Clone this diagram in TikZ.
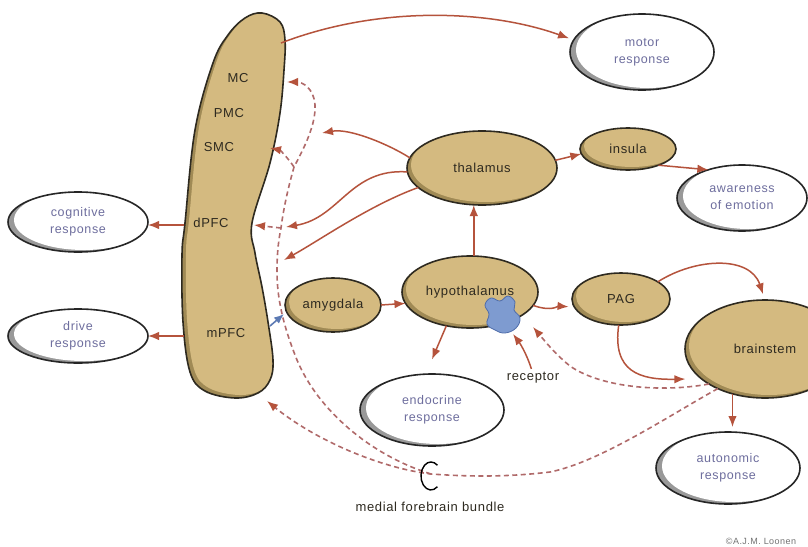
\documentclass[tikz,border=0pt]{standalone}
\usepackage{fontspec}
\newfontfamily\lbl[LetterSpace=5]{Liberation Sans}
\usetikzlibrary{arrows.meta,calc,shapes.geometric}
\definecolor{tanc}{HTML}{D4BA80}
\definecolor{tandark}{HTML}{A08A55}
\definecolor{edge}{HTML}{2E2A20}
\definecolor{arr}{HTML}{B5533C}
\definecolor{dsh}{HTML}{B06A6A}
\definecolor{respc}{HTML}{6E6E9E}
\definecolor{blu}{HTML}{5C7AB4}
\definecolor{recfill}{HTML}{7E9BD0}
\definecolor{recedge}{HTML}{4F6DAA}
\tikzset{
  region/.style={ellipse, draw=edge, line width=1.6pt, inner sep=0pt, outer sep=0pt, text=edge, font=\lbl\fontsize{13}{16}\selectfont},
  respbox/.style={ellipse, draw=black!85, line width=1.6pt, inner sep=0pt, outer sep=0pt, text=respc, align=center, font=\lbl\fontsize{12.5}{17}\selectfont},
  ctxlabel/.style={text=edge, font=\lbl\fontsize{13}{16}\selectfont, inner sep=1pt},
  redarr/.style={draw=arr, line width=1.5pt, -{Latex[length=11pt,width=8.5pt]}},
  dasharr/.style={draw=dsh, line width=1.6pt, dash pattern=on 5pt off 3.5pt, -{Latex[length=11pt,width=8.5pt,color=arr]}},
  bluarr/.style={draw=blu, line width=1.6pt, -{Latex[length=10pt,width=8pt]}},
}
\newcommand\tanell[6]{%
  \fill[tandark] (#2,#3) ellipse [x radius=#4, y radius=#5];
  \begin{scope}
    \clip (#2,#3) ellipse [x radius=#4, y radius=#5];
    \fill[tanc] (#2+4,#3-3) ellipse [x radius=#4, y radius=#5];
  \end{scope}
  \node[region, minimum width={2*#4}, minimum height={2*#5}] (#1) at (#2,#3) {#6};}
\newcommand\respell[6]{%
  \fill[black!40] (#2,#3) ellipse [x radius=#4, y radius=#5];
  \begin{scope}
    \clip (#2,#3) ellipse [x radius=#4, y radius=#5];
    \fill[white] (#2+6,#3-2) ellipse [x radius=#4, y radius=#5];
  \end{scope}
  \node[respbox, minimum width={2*#4}, minimum height={2*#5}] (#1) at (#2,#3) {#6};}
\def\ctxpath{plot[smooth cycle, tension=0.6] coordinates {(262,13) (280,22) (285,40) (284,70) (280,113) (270,163) (252,223) (255,253) (262,287) (268,322) (273,360) (270,380) (258,393) (235,398) (205,391) (190,372) (183,322) (182,255) (185,223) (195,130) (213,63) (228,35) (245,18)}}
\begin{document}
\begin{tikzpicture}[x=1pt,y=-1pt]
\clip (0,0) rectangle (808,546);
\fill[white] (0,0) rectangle (808,546);

% cortex bar
\fill[tandark] \ctxpath;
\begin{scope}
  \clip \ctxpath;
  \fill[tanc, shift={(4,-3)}] \ctxpath;
\end{scope}
\draw[edge, line width=1.6pt] \ctxpath;

\coordinate (cMC) at (287,82);
\coordinate (cSMC) at (270,148);
\coordinate (cdPFC) at (254,225);
\coordinate (ccog) at (184,225);
\coordinate (cdrive) at (184,336);
\coordinate (cmot) at (281,43);
\coordinate (cblue) at (270,326);
\coordinate (cbot) at (267,401);

\node[ctxlabel] (MC) at (238,78) {MC};
\node[ctxlabel] (PMC) at (229,113) {PMC};
\node[ctxlabel] (SMC) at (219,147) {SMC};
\node[ctxlabel] (dPFC) at (211,223) {dPFC};
\node[ctxlabel] (mPFC) at (226,333) {mPFC};

% regions
\tanell{thal}{482}{168}{75}{37}{thalamus}
\tanell{ins}{628}{149}{48}{21}{insula}
\tanell{hyp}{470}{292}{68}{36}{hypothalamus}
\tanell{amyg}{333}{305}{48}{27}{amygdala}
\tanell{pag}{621}{299}{49}{26}{PAG}
\tanell{brain}{765}{349}{80}{49}{brainstem}

% responses
\respell{mot}{642}{52}{72}{38}{motor\\response}
\respell{awa}{742}{198}{65}{33}{awareness\\of emotion}
\respell{cog}{78}{222}{70}{30}{cognitive\\response}
\respell{drv}{78}{336}{70}{27}{drive\\response}
\respell{endo}{432}{410}{72}{36}{endocrine\\response}
\respell{auto}{728}{468}{72}{36}{autonomic\\response}

% receptor
\fill[recfill, draw=recedge, line width=0.8pt] plot[smooth cycle, tension=0.7] coordinates {(485,305) (491,298) (500,301) (508,296) (515,302) (514,310) (520,318) (516,328) (505,333) (495,330) (487,324) (489,314)};
\node[text=edge, font=\lbl\fontsize{13}{16}\selectfont] (reclab) at (533,378) {receptor};

% free ends
\coordinate (t1) at (322,133);
\coordinate (t2) at (286,227);
\coordinate (t3) at (284,260);
\coordinate (rtip) at (513,334);
\coordinate (btip) at (284,314);
\coordinate (htip) at (533,327);
\coordinate (mfb) at (431,474);
\coordinate (jd) at (281,228);
\coordinate (js) at (294,167);

% red arrows
\draw[redarr] (ccog) -- (ccog -| cog.east);
\draw[redarr] (cdrive) -- (cdrive -| drv.east);
\draw[redarr, shorten >=5pt] (cmot) .. controls (380,5) and (490,10) .. (mot.170);
\draw[redarr] (thal.172) .. controls (390,145) and (350,128) .. (t1);
\draw[redarr] (thal.183) .. controls (350,168) and (340,218) .. (t2);
\draw[redarr] (thal.197) .. controls (370,205) and (320,240) .. (t3);
\draw[redarr] (thal.6) -- (ins.186);
\draw[redarr] (ins.-28) -- (awa.140);
\draw[redarr] (hyp.84) -- (hyp.84 |- thal.south);
\draw[redarr] (amyg.east) -- (hyp.190);
\draw[redarr, shorten >=16pt] (hyp.235) -- (endo.100);
\draw[redarr, shorten >=6pt] (hyp.-12) .. controls (552,312) and (558,306) .. (pag.190);
\draw[redarr, shorten >=6pt] (pag.25) .. controls (695,258) and (750,255) .. (brain.north);
\draw[redarr, shorten >=16pt] (pag.-95) .. controls (612,372) and (640,380) .. (brain.205);
\draw[redarr, shorten >=5pt] (brain.-126) -- (brain.-126 |- auto.north);
\draw[redarr] (reclab.100) .. controls (526,352) and (519,342) .. (rtip);
\draw[bluarr] (cblue) -- (btip);

% dashed pathways
\draw[dasharr] (mfb) .. controls (370,455) and (318,410) .. (297,360) .. controls (287,335) and (277,305) .. (277,272) .. controls (277,250) and (279,238) .. (jd) .. controls (284,205) and (289,185) .. (js) .. controls (304,148) and (316,125) .. (315,105) .. controls (314,88) and (302,82) .. (cMC);
\draw[dasharr] (jd) -- (cdPFC);
\draw[dasharr] (js) .. controls (288,158) and (280,150) .. (cSMC);
\draw[dasharr] (brain.220) .. controls (670,415) and (600,462) .. (550,472) .. controls (500,478) and (460,476) .. (mfb) .. controls (380,468) and (315,440) .. (cbot);
\draw[dasharr] (brain.212) .. controls (660,393) and (600,387) .. (570,366) .. controls (555,354) and (544,340) .. (htip);

% medial forebrain bundle
\draw[black, line width=1.4pt] (437.4,486.7) arc[start angle=50, end angle=310, x radius=10, y radius=14];
\node[text=edge, font=\lbl\fontsize{13}{16}\selectfont] (mfblab) at (430,507) {medial forebrain bundle};

\node[text=black!55, font=\lbl\fontsize{9}{10}\selectfont] (copy) at (761,541) {©A.J.M. Loonen};
\end{tikzpicture}
\end{document}
